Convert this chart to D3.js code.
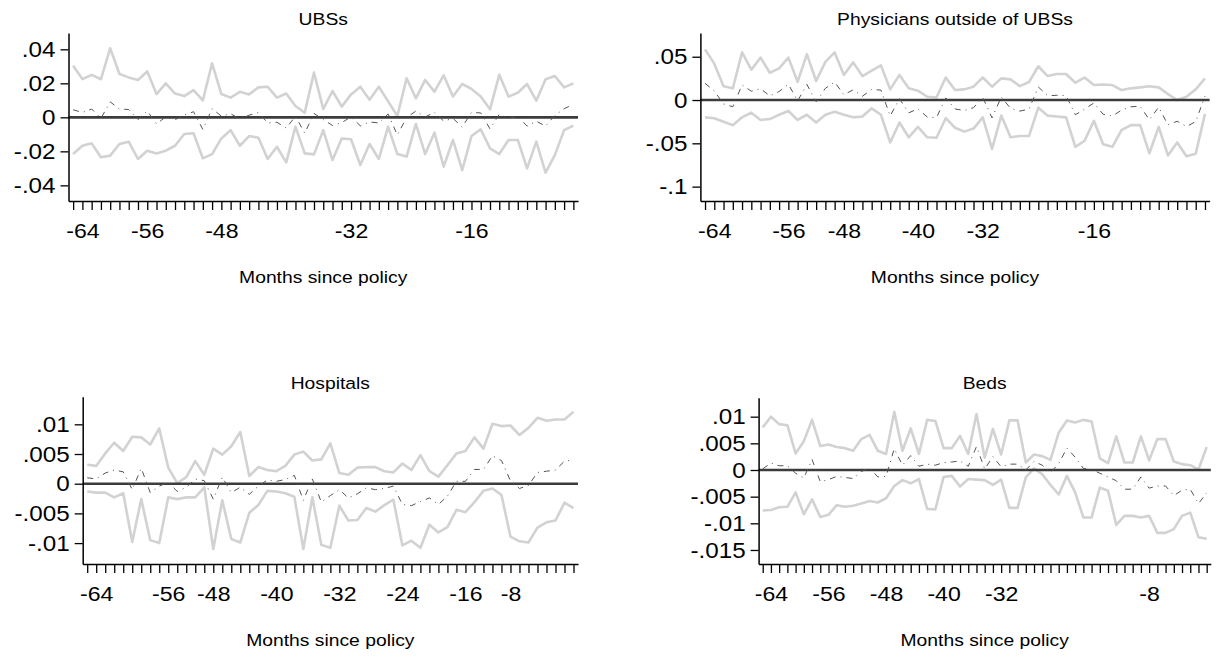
<!DOCTYPE html>
<html>
<head>
<meta charset="utf-8">
<script src="https://cdn.jsdelivr.net/npm/d3@7"></script>
<style>
    body { margin: 0; background: #fff; }
    svg  { display: block; font-family: 'Liberation Sans', Arial, sans-serif; }
</style>
</head>
<body>
<svg width="1221" height="657"></svg>
<script>
// one observation per tick, 55 ticks on every panel
var months = d3.range( 55 );

// UBSs
var ubsUpper = [ .0303, .0225, .025, .0224, .0406, .0255, .0235, .022, .027, .0137, .02, .014, .0125, .016, .010, .0318, .0137, .0116, .015, .0135,
                 .0176, .018, .0116, .014, .0067, .0027, .0263, .0049, .0155, .0063, .0135, .018, .0104, .018, .0094, .0008, .023, .0112, .022, .0151,
                 .0247, .0122, .0196, .0167, .0122, .0047, .025, .0122, .0145, .0196, .0098, .0224, .0243, .0176, .02 ],
    ubsLower = [ -.0216, -.0167, -.0153, -.0235, -.0225, -.0157, -.0143, -.0245, -.0196, -.0212, -.0196, -.0167, -.0098, -.0094, -.0241, -.0216, -.0124, -.0075, -.0167, -.011,
                 -.012, -.0245, -.0173, -.0265, -.0055, -.0212, -.0218, -.0075, -.0251, -.0124, -.0129, -.028, -.0157, -.0245, -.0055, -.0216, -.0231, -.0039, -.0216, -.009,
                 -.029, -.0133, -.031, -.011, -.0071, -.0182, -.0216, -.0133, -.0133, -.030, -.0143, -.0325, -.0222, -.0075, -.0049 ],
    ubsEst   = [ .0044, .0029, .0049, -.0006, .0091, .0049, .0046, -.0013, .0037, -.0038, .0002, -.0014, .0014, .0033, -.0071, .0051, .0007, .0021, -.0009, .0013,
                 .0028, -.0033, -.0029, -.0063, .0006, -.0093, .0023, -.0013, -.0048, -.0031, .0003, -.005, -.0027, -.0033, .002, -.0104, -.0001, .0037, .0002, .003,
                 -.0022, -.0006, -.0057, .0029, .0026, -.0068, .0017, -.0006, .0006, -.0052, -.0023, -.0051, .0011, .0051, .0076 ];

// Physicians outside of UBSs
var phyUpper = [ .0585, .042, .016, .0135, .055, .035, .049, .0315, .0365, .049, .021, .053, .022, .044, .055, .029, .0435, .0277, .034, .040,
                 .0123, .029, .0135, .0108, .0038, .003, .026, .0115, .0123, .0154, .026, .0154, .025, .0238, .016, .0208, .039, .0277, .030, .030,
                 .020, .026, .0173, .018, .0173, .0115, .0135, .0146, .016, .0146, .0069, 0, .0038, .0123, .025 ],
    phyLower = [ -.02, -.021, -.025, -.029, -.02, -.0146, -.023, -.022, -.017, -.0127, -.023, -.017, -.026, -.017, -.0135, -.017, -.020, -.019, -.0096, -.017,
                 -.049, -.026, -.043, -.031, -.043, -.0435, -.021, -.032, -.0365, -.033, -.020, -.0565, -.018, -.043, -.0415, -.0415, -.0088, -.018, -.019, -.020,
                 -.054, -.047, -.024, -.051, -.054, -.0346, -.029, -.029, -.0615, -.031, -.064, -.049, -.065, -.062, -.016 ],
    phyEst   = [ .0193, .0105, -.0045, -.0078, .0175, .0102, .013, .0048, .0098, .0182, -.001, .018, -.002, .0135, .0208, .006, .0118, .0044, .0122, .0115,
                 -.0184, .0015, -.0148, -.0101, -.0196, -.0203, .0025, -.0103, -.0121, -.0088, .003, -.0206, .0035, -.0096, -.0128, -.0104, .0151, .0049, .0055, .005,
                 -.017, -.0105, -.0034, -.0165, -.0184, -.0116, -.0078, -.0072, -.0228, -.0082, -.0286, -.0245, -.0306, -.0249, .0045 ];

// Hospitals
var hosUpper = [ .0032, .003, .0051, .0069, .0055, .0079, .0078, .0066, .0093, .0027, .0001, .0011, .0038, .0015, .0059, .0049, .0063, .0087, .0013, .0028,
                 .0023, .0021, .003, .0049, .0054, .0039, .0041, .0068, .0018, .0015, .0027, .0028, .0028, .0021, .0019, .0034, .0023, .0048, .0021, .0012,
                 .0031, .0051, .0055, .0078, .0059, .0101, .0097, .0098, .0082, .0094, .0111, .0106, .0108, .0108, .0121 ],
    hosLower = [ -.0013, -.0015, -.0015, -.0023, -.0016, -.0098, -.0026, -.0095, -.01, -.0023, -.0026, -.0023, -.0023, -.0006, -.011, -.0028, -.0093, -.0099, -.0049, -.0036,
                 -.0012, -.0013, -.0016, -.0022, -.011, -.0023, -.0103, -.0108, -.0037, -.0062, -.0061, -.0041, -.0047, -.0036, -.0027, -.0104, -.0096, -.0108, -.0069, -.0082,
                 -.0073, -.0044, -.0048, -.0031, -.0012, -.0008, -.0019, -.0089, -.0097, -.0099, -.0074, -.0065, -.0062, -.0032, -.0041 ],
    hosEst   = [ .001, .0008, .0018, .0023, .002, -.001, .0026, -.0015, -.0004, .0002, -.0013, -.0006, .0008, .0005, -.0026, .0011, -.0015, -.0006, -.0018, -.0004,
                 .0006, .0004, .0007, .0014, -.0028, .0008, -.0031, -.002, -.001, -.0024, -.0017, -.0007, -.001, -.0008, -.0004, -.0035, -.0037, -.003, -.0024, -.0035,
                 -.0021, .0004, .0004, .0024, .0024, .0047, .0039, .0005, -.0008, -.0003, .0019, .0021, .0023, .0038, .004 ];

// Beds
var bedUpper = [ .008, .01, .0086, .0084, .0031, .0054, .0094, .0045, .0048, .0043, .0041, .0036, .0058, .0066, .0036, .003, .0109, .0036, .0078, .003,
                 .0094, .0092, .0041, .0041, .0064, .003, .0105, .0023, .0077, .0029, .0093, .0093, .0014, .0029, .0026, .0019, .007, .0093, .0089, .0094,
                 .0091, .0022, .0013, .0063, .0014, .0014, .0063, .0018, .0058, .0058, .0016, .0011, .0009, .0001, .0043 ],
    bedLower = [ -.0076, -.0075, -.007, -.0069, -.0042, -.0083, -.0055, -.0088, -.0084, -.0066, -.0069, -.0067, -.0063, -.0058, -.0061, -.0053, -.003, -.0019, -.0025, -.0017,
                 -.0073, -.0074, -.0013, -.0011, -.0031, -.0017, -.0018, -.0019, -.0028, -.0018, -.0071, -.0071, -.0014, .0003, -.0008, -.0028, -.0046, -.0011, -.0042, -.0089,
                 -.0089, -.0033, -.0039, -.0103, -.0086, -.0086, -.0089, -.0086, -.0118, -.0118, -.0111, -.0086, -.008, -.0126, -.0129 ],
    bedEst   = [ .0002, .0013, .0008, .0008, -.0006, -.0015, .002, -.0022, -.0018, -.0012, -.0014, -.0016, -.0003, .0004, -.0013, -.0012, .004, .0009, .0027, .0007,
                 .0011, .0009, .0014, .0015, .0017, .0007, .0044, .0002, .0025, .0006, .0011, .0011, 0, .0016, .0009, -.0005, .0012, .0041, .0024, .0003,
                 .0001, -.0006, -.0013, -.002, -.0036, -.0036, -.0013, -.0034, -.003, -.003, -.0048, -.0038, -.0036, -.0063, -.0043 ];

// y ticks
var ubsYTicks = [ -.04, -.02, 0, .02, .04 ],
    ubsYLabels = [ '-.04', '-.02', '0', '.02', '.04' ],
    phyYTicks = [ -.1, -.05, 0, .05 ],
    phyYLabels = [ '-.1', '-.05', '0', '.05' ],
    hosYTicks = [ -.01, -.005, 0, .005, .01 ],
    hosYLabels = [ '-.01', '-.005', '0', '.005', '.01' ],
    bedYTicks = [ -.015, -.01, -.005, 0, .005, .01 ],
    bedYLabels = [ '-.015', '-.01', '-.005', '0', '.005', '.01' ];

// x labels: which tick carries which month label
var ubsXTicks = [ 1, 8, 16, 30, 43 ],
    ubsXLabels = [ '-64', '-56', '-48', '-32', '-16' ],
    phyXTicks = [ 1, 9, 15, 23, 30, 42 ],
    phyXLabels = [ '-64', '-56', '-48', '-40', '-32', '-16' ],
    hosXTicks = [ 1, 9, 14, 21, 28, 35, 42, 47 ],
    hosXLabels = [ '-64', '-56', '-48', '-40', '-32', '-24', '-16', '-8' ],
    bedXTicks = [ 1, 8, 15, 22, 29, 47 ],
    bedXLabels = [ '-64', '-56', '-48', '-40', '-32', '-8' ];

var panels = [
    { title: 'UBSs', upper: ubsUpper, lower: ubsLower, est: ubsEst,
      yTicks: ubsYTicks, yLabels: ubsYLabels, xTicks: ubsXTicks, xLabels: ubsXLabels,
      left: 68.5, right: 578, top: 33, bottom: 201, yMin: -.0492, yMax: .0496, titleY: 25, xTitleY: 283 },
    { title: 'Physicians outside of UBSs', upper: phyUpper, lower: phyLower, est: phyEst,
      yTicks: phyYTicks, yLabels: phyYLabels, xTicks: phyXTicks, xLabels: phyXLabels,
      left: 700.4, right: 1209.6, top: 33, bottom: 201, yMin: -.1166, yMax: .0774, titleY: 25, xTitleY: 283 },
    { title: 'Hospitals', upper: hosUpper, lower: hosLower, est: hosEst,
      yTicks: hosYTicks, yLabels: hosYLabels, xTicks: hosXTicks, xLabels: hosXLabels,
      left: 82.7, right: 578, top: 396.7, bottom: 564, yMin: -.01352, yMax: .01465, titleY: 389, xTitleY: 646 },
    { title: 'Beds', upper: bedUpper, lower: bedLower, est: bedEst,
      yTicks: bedYTicks, yLabels: bedYLabels, xTicks: bedXTicks, xLabels: bedXLabels,
      left: 758.6, right: 1210.8, top: 397.7, bottom: 564, yMin: -.01763, yMax: .01356, titleY: 389, xTitleY: 646 }
];

var svg = d3.select( 'svg' ),
    stretch = 1.17,
    tickStretch = 1.1;

panels.forEach( function( p ) {
    var x = d3.scaleLinear().domain( [ -0.5, months.length - 0.5 ] ).range( [ p.left, p.right ] ),
        y = d3.scaleLinear().domain( [ p.yMin, p.yMax ] ).range( [ p.bottom, p.top ] ),
        g = svg.append( 'g' ),
        labelFor = {},
        line = function( values ) {
            return d3.line()
                .x( function( d, i ) { return x( i ); } )
                .y( function( d ) { return y( d ); } )( values );
        };

    p.xTicks.forEach( function( t, i ) { labelFor[ t ] = p.xLabels[ i ]; } );

    // confidence bands
    [ p.upper, p.lower ].forEach( function( values ) {
        g.append( 'path' )
            .attr( 'd', line( values ) )
            .attr( 'fill', 'none' )
            .attr( 'stroke', '#d2d2d2' )
            .attr( 'stroke-width', 2.6 )
            .attr( 'stroke-linejoin', 'round' );
    } );

    // zero line
    g.append( 'line' )
        .attr( 'x1', x.range()[ 0 ] )
        .attr( 'x2', x.range()[ 1 ] )
        .attr( 'y1', y( 0 ) )
        .attr( 'y2', y( 0 ) )
        .attr( 'stroke', '#3c3c3c' )
        .attr( 'stroke-width', 2.6 );

    // point estimate
    g.append( 'path' )
        .attr( 'd', line( p.est ) )
        .attr( 'fill', 'none' )
        .attr( 'stroke', '#555' )
        .attr( 'stroke-width', 1 )
        .attr( 'stroke-dasharray', '6,5,1,5' );

    // axes
    var xAxis = g.append( 'g' )
        .attr( 'transform', 'translate(0,' + p.bottom + ')' )
        .call( d3.axisBottom( x )
            .tickValues( months )
            .tickSize( 9 )
            .tickSizeOuter( 0 )
            .tickPadding( 13 )
            .tickFormat( function( d ) { return labelFor[ d ] || ''; } ) );

    var yAxis = g.append( 'g' )
        .attr( 'transform', 'translate(' + p.left + ',0)' )
        .call( d3.axisLeft( y )
            .tickValues( p.yTicks )
            .tickSize( 8 )
            .tickSizeOuter( 0 )
            .tickPadding( 5 )
            .tickFormat( function( d, i ) { return p.yLabels[ i ]; } ) );

    [ xAxis, yAxis ].forEach( function( a ) {
        a.select( '.domain' ).attr( 'stroke', '#000' ).attr( 'stroke-width', 1.5 );
        a.selectAll( '.tick line' ).attr( 'stroke', '#000' ).attr( 'stroke-width', 1.3 );
        a.selectAll( 'text' )
            .attr( 'font-family', null )
            .attr( 'font-size', null )
            .style( 'font-size', '21px' )
            .attr( 'fill', '#000' );
    } );
    xAxis.selectAll( 'text' ).attr( 'transform', 'scale(' + tickStretch + ',1)' );
    yAxis.selectAll( 'text' )
        .style( 'font-size', '22px' )
        .attr( 'x', -13 / tickStretch )
        .attr( 'transform', 'scale(' + tickStretch + ',1)' );

    // titles
    var cx = ( p.left + p.right ) / 2;
    g.append( 'text' )
        .attr( 'transform', 'translate(' + cx + ',' + p.titleY + ') scale(' + stretch + ',1)' )
        .attr( 'text-anchor', 'middle' )
        .style( 'font-size', '16.5px' )
        .text( p.title );

    g.append( 'text' )
        .attr( 'transform', 'translate(' + cx + ',' + p.xTitleY + ') scale(' + stretch + ',1)' )
        .attr( 'text-anchor', 'middle' )
        .style( 'font-size', '16.5px' )
        .text( 'Months since policy' );
} );
</script>
</body>
</html>
